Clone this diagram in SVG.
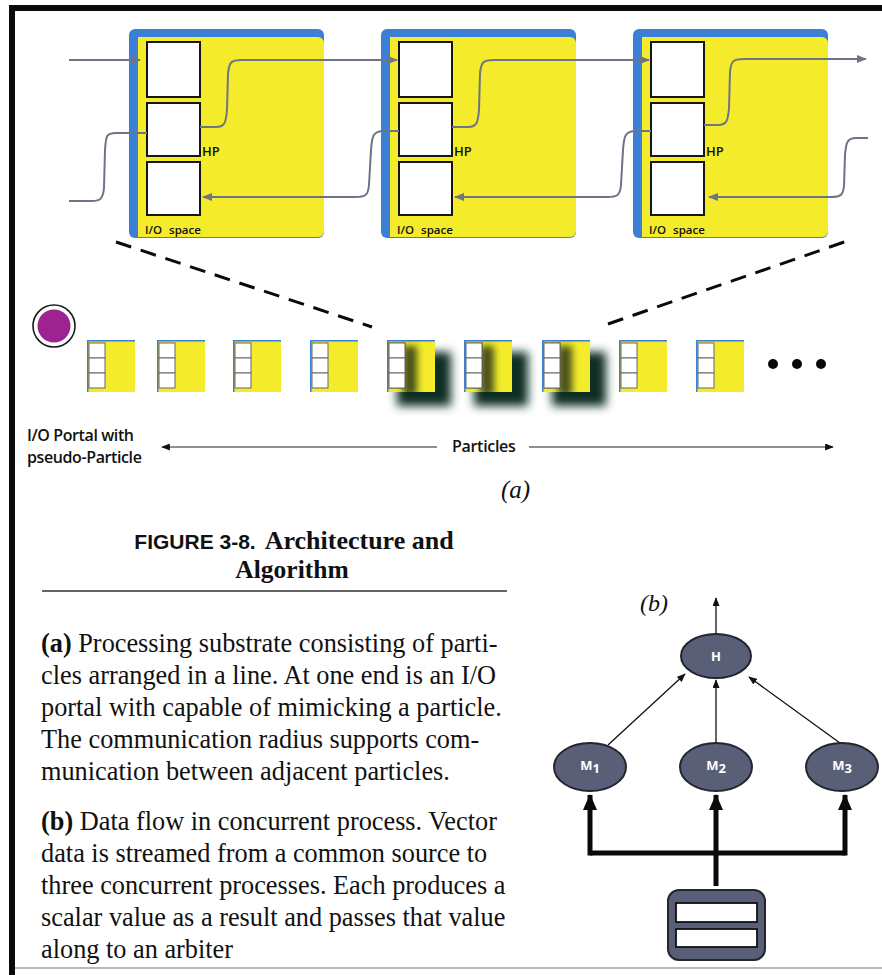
<svg xmlns="http://www.w3.org/2000/svg" width="882" height="975" viewBox="0 0 882 975">
  <style>
    .blue { fill: #3b7fd6; }
    .yel { fill: #f4ec2a; }
    .cell { fill: #ffffff; stroke: #151515; stroke-width: 2; }
    .wire { fill: none; stroke: #6f7484; stroke-width: 2; }
    .lbl { font-family: "Open Sans", "Liberation Sans", sans-serif; font-weight: 600; fill: #111; }
    .serif { font-family: "Liberation Serif", "Times New Roman", serif; fill: #111; }
    .node { fill: #5a5f78; stroke: #23252f; stroke-width: 2; }
    .ntxt { font-family: "Open Sans", "Liberation Sans", sans-serif; font-weight: 700; fill: #ffffff; font-size: 13px; }
    .thin { fill: none; stroke: #111; stroke-width: 1.3; }
    .thick { fill: none; stroke: #0a0a0a; stroke-width: 5; }
  </style>
  <defs>
    <marker id="ah-gray" viewBox="0 0 10 8" refX="9" refY="4" markerWidth="10" markerHeight="8" markerUnits="userSpaceOnUse" orient="auto">
      <path d="M0,0 L10,4 L0,8 z" fill="#6f7484"/>
    </marker>
    <marker id="ah-thin" viewBox="0 0 10 8" refX="9" refY="4" markerWidth="9" markerHeight="7" markerUnits="userSpaceOnUse" orient="auto">
      <path d="M0,0 L10,4 L0,8 z" fill="#111"/>
    </marker>
    <marker id="ah-thick" viewBox="0 0 16 14" refX="15" refY="7" markerWidth="16" markerHeight="14" markerUnits="userSpaceOnUse" orient="auto">
      <path d="M0,0 L16,7 L0,14 z" fill="#0a0a0a"/>
    </marker>
    <filter id="soft" x="-50%" y="-50%" width="200%" height="200%">
      <feGaussianBlur stdDeviation="5"/>
    </filter>
    <filter id="softer" x="-50%" y="-50%" width="200%" height="200%">
      <feGaussianBlur stdDeviation="3.5"/>
    </filter>
    <clipPath id="pclip"><rect x="0" y="0" width="48" height="52"/></clipPath>
    <!-- big particle body -->
    <g id="bigp">
      <rect class="blue" x="0" y="0" width="195" height="209" rx="6"/>
      <rect class="yel" x="9" y="8" width="186" height="200" rx="6"/>
      <rect class="yel" x="9" y="8" width="20" height="200"/>
      <rect class="cell" x="18" y="13" width="53" height="55"/>
      <rect class="cell" x="18" y="74" width="53" height="53"/>
      <rect class="cell" x="18" y="133" width="53" height="53"/>
      <text class="lbl" x="73" y="127" font-size="13" font-weight="700">HP</text>
      <text class="lbl" x="16" y="205" font-size="11.5" word-spacing="4">I/O space</text>
    </g>
    <!-- small particle body -->
    <g id="smallp">
      <rect class="yel" x="0" y="0" width="48" height="52"/>
      <path d="M0.75,52 V0.75 H48" fill="none" stroke="#3b7fd6" stroke-width="1.5"/>
      <rect x="2" y="3" width="16" height="15" fill="#fff" stroke="#666" stroke-width="1"/>
      <rect x="2" y="18" width="16" height="15" fill="#fff" stroke="#666" stroke-width="1"/>
      <rect x="2" y="33" width="16" height="15" fill="#fff" stroke="#666" stroke-width="1"/>
    </g>
    <g id="shadowp">
      <rect x="10" y="12" width="54" height="54" fill="#0f2e22" filter="url(#soft)"/>
    </g>
    <!-- soft inner shading of a highlighted particle -->
    <g id="shadep">
      <g clip-path="url(#pclip)">
        <rect x="16" y="6" width="14" height="50" fill="#1a2a14" opacity="0.8" filter="url(#softer)"/>
      </g>
      <rect x="2" y="3" width="16" height="15" fill="#fff" stroke="#666" stroke-width="1"/>
      <rect x="2" y="18" width="16" height="15" fill="#fff" stroke="#666" stroke-width="1"/>
      <rect x="2" y="33" width="16" height="15" fill="#fff" stroke="#666" stroke-width="1"/>
    </g>
  </defs>

  <rect width="882" height="975" fill="#ffffff"/>
  <!-- page frame -->
  <path d="M12,975 V8 H882" fill="none" stroke="#0a0a0a" stroke-width="6"/>
  <line x1="15" y1="968" x2="882" y2="968" stroke="#b8b8bc" stroke-width="2"/>

  <!-- enlarged particles -->
  <g id="particle-a"><use href="#bigp" x="129" y="29"/></g>
  <g id="particle-b"><use href="#bigp" x="381" y="29"/></g>
  <g id="particle-c"><use href="#bigp" x="633" y="29"/></g>

  <g id="links-top">
    <path class="wire" d="M69,60 H140" marker-end="url(#ah-gray)"/>
    <path class="wire" d="M147,133 H116 C106,133 106,136 105,150 L104,188 C103,199 100,201 92,201 H69"/>
    <path class="wire" d="M200,127 H216 C225,127 226,122 227,110 L228,74 C229,62 231,60 242,60 H397" marker-end="url(#ah-gray)"/>
    <path class="wire" d="M399,131 H384 C373,131 372,136 371,150 L369,185 C368,195 366,197 355,197 H203" marker-end="url(#ah-gray)"/>
    <path class="wire" d="M452,127 H468 C477,127 478,122 479,110 L480,74 C481,62 483,60 494,60 H649" marker-end="url(#ah-gray)"/>
    <path class="wire" d="M651,131 H636 C625,131 624,136 623,150 L621,185 C620,195 618,197 607,197 H455" marker-end="url(#ah-gray)"/>
    <path class="wire" d="M704,125 H718 C727,125 728,120 729,108 L730,72 C731,61 733,59 744,59 H866" marker-end="url(#ah-gray)"/>
    <path class="wire" d="M868,138 H856 C847,138 846,143 845,155 L844,186 C843,195 841,197 831,197 H709" marker-end="url(#ah-gray)"/>
  </g>

  <!-- zoom guides -->
  <g id="guides" stroke="#0a0a0a" stroke-width="3" stroke-dasharray="16 10" fill="none">
    <line x1="116" y1="242" x2="372" y2="327"/>
    <line x1="608" y1="324" x2="850" y2="240"/>
  </g>

  <!-- I/O portal -->
  <g id="portal">
    <circle cx="54" cy="326" r="21" fill="#ffffff" stroke="#1a1a1a" stroke-width="1.6"/>
    <circle cx="54" cy="326" r="16.5" fill="#9c2390"/>
  </g>

  <!-- row of particles -->
  <g id="p1"><use href="#smallp" x="87" y="340"/></g>
  <g id="p2"><use href="#smallp" x="157" y="340"/></g>
  <g id="p3"><use href="#smallp" x="233" y="340"/></g>
  <g id="p4"><use href="#smallp" x="310" y="340"/></g>
  <g id="p5">
    <use href="#shadowp" x="387" y="340"/>
    <use href="#smallp" x="387" y="340"/>
    <use href="#shadep" x="387" y="340"/>
  </g>
  <g id="p6">
    <use href="#shadowp" x="464" y="340"/>
    <use href="#smallp" x="464" y="340"/>
    <use href="#shadep" x="464" y="340"/>
  </g>
  <g id="p7">
    <use href="#shadowp" x="542" y="340"/>
    <use href="#smallp" x="542" y="340"/>
    <use href="#shadep" x="542" y="340"/>
  </g>
  <g id="p8"><use href="#smallp" x="619" y="340"/></g>
  <g id="p9"><use href="#smallp" x="696" y="340"/></g>
  <g id="more" fill="#0a0a0a">
    <circle cx="773" cy="364" r="5"/>
    <circle cx="797" cy="364" r="5"/>
    <circle cx="821" cy="364" r="5"/>
  </g>

  <!-- row labels -->
  <g id="row-labels">
    <text class="lbl" x="27" y="441" font-size="16" letter-spacing="-0.4">I/O Portal with</text>
    <text class="lbl" x="27" y="463" font-size="16" letter-spacing="-0.4">pseudo-Particle</text>
    <text class="lbl" x="452" y="452" font-size="16" letter-spacing="-0.3">Particles</text>
    <path d="M437,447 H162" stroke="#222" stroke-width="1.2" fill="none" marker-end="url(#ah-thin)"/>
    <path d="M529,447 H833" stroke="#222" stroke-width="1.2" fill="none" marker-end="url(#ah-thin)"/>
  </g>
  <text class="serif" x="501" y="498" font-size="25" font-style="italic">(a)</text>

  <!-- caption -->
  <g id="caption">
    <text x="294" y="549" text-anchor="middle" font-size="26" class="serif" font-weight="700"><tspan font-family="Liberation Sans, Arial, sans-serif" font-size="21">FIGURE 3-8.</tspan><tspan dx="9">Architecture and</tspan></text>
    <text x="292" y="578" text-anchor="middle" font-size="25.5" class="serif" font-weight="700">Algorithm</text>
    <line x1="42" y1="591" x2="507" y2="591" stroke="#333" stroke-width="1.3"/>
  </g>

  <g id="body" class="serif" font-size="26.3">
    <text x="41" y="652"><tspan font-weight="700">(a)</tspan> Processing substrate consisting of parti-</text>
    <text x="41" y="684">cles arranged in a line. At one end is an I/O</text>
    <text x="41" y="716">portal with capable of mimicking a particle.</text>
    <text x="41" y="748">The communication radius supports com-</text>
    <text x="41" y="780">munication between adjacent particles.</text>
    <text x="41" y="830"><tspan font-weight="700">(b)</tspan> Data flow in concurrent process. Vector</text>
    <text x="41" y="862">data is streamed from a common source to</text>
    <text x="41" y="894">three concurrent processes. Each produces a</text>
    <text x="41" y="926">scalar value as a result and passes that value</text>
    <text x="41" y="958">along to an arbiter</text>
  </g>

  <!-- (b) data flow -->
  <text class="serif" x="640" y="611" font-size="24" font-style="italic">(b)</text>
  <g id="flow-links">
    <path class="thin" d="M716,634 V598" marker-end="url(#ah-thin)"/>
    <path class="thin" d="M608,745 L685,674" marker-end="url(#ah-thin)"/>
    <path class="thin" d="M716,743 V680" marker-end="url(#ah-thin)"/>
    <path class="thin" d="M840,743 L749,677" marker-end="url(#ah-thin)"/>
    <path class="thick" d="M716,886 V853"/>
    <path class="thick" d="M590,853 H845"/>
    <path class="thick" d="M590,855.5 V795" marker-end="url(#ah-thick)"/>
    <path class="thick" d="M716,855.5 V795" marker-end="url(#ah-thick)"/>
    <path class="thick" d="M845,855.5 V795" marker-end="url(#ah-thick)"/>
  </g>
  <g id="H">
    <ellipse class="node" cx="716" cy="656" rx="35" ry="22"/>
    <text class="ntxt" x="716" y="661" text-anchor="middle">H</text>
  </g>
  <g id="M1">
    <ellipse class="node" cx="590" cy="767" rx="36" ry="24"/>
    <text class="ntxt" x="590" y="770" text-anchor="middle">M<tspan dy="3">1</tspan></text>
  </g>
  <g id="M2">
    <ellipse class="node" cx="716" cy="767" rx="36" ry="24"/>
    <text class="ntxt" x="716" y="770" text-anchor="middle">M<tspan dy="3">2</tspan></text>
  </g>
  <g id="M3">
    <ellipse class="node" cx="842" cy="767" rx="36" ry="24"/>
    <text class="ntxt" x="842" y="770" text-anchor="middle">M<tspan dy="3">3</tspan></text>
  </g>
  <g id="source">
    <rect x="668" y="890" width="97" height="70" rx="11" class="node"/>
    <rect x="676" y="903" width="81" height="19" fill="#fff" stroke="#111" stroke-width="1.8"/>
    <rect x="676" y="929" width="81" height="18" fill="#fff" stroke="#111" stroke-width="1.8"/>
  </g>
</svg>
